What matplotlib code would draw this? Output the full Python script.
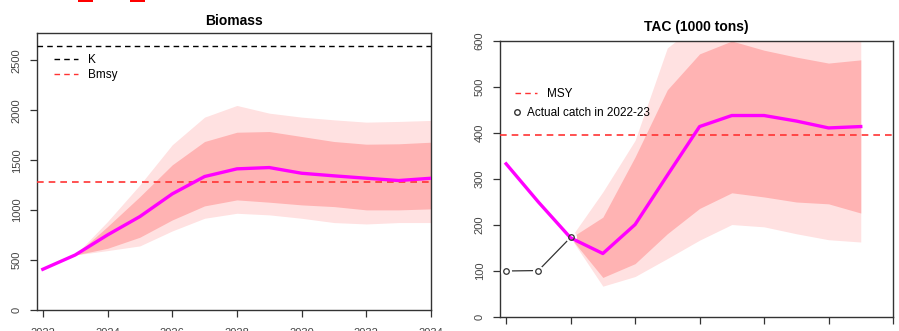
import matplotlib
matplotlib.use("Agg")
import matplotlib.pyplot as plt
from matplotlib.patches import Rectangle
from matplotlib.lines import Line2D
import numpy as np

plt.rcParams['font.family'] = ['Liberation Sans', 'DejaVu Sans']

# ---- data ----
years_b = list(range(2022, 2035))
biomass = [408, 551, 752, 936, 1163, 1337, 1414, 1427, 1370, 1344, 1320, 1297, 1320]
band_years_b = list(range(2023, 2035))
b_in_lo = [551, 618, 729, 902, 1043, 1103, 1080, 1053, 1036, 1003, 1003, 1013]
b_in_hi = [551, 836, 1136, 1454, 1688, 1781, 1788, 1738, 1688, 1661, 1665, 1681]
b_out_lo = [551, 595, 642, 792, 919, 969, 953, 919, 876, 862, 876, 876]
b_out_hi = [551, 886, 1253, 1655, 1932, 2049, 1972, 1932, 1905, 1882, 1889, 1899]
K = 2640
Bmsy = 1280

years_t = list(range(2022, 2034))
tac = [333, 250, 172, 138, 201, 308, 414, 438, 438, 426, 411, 414]
band_years_t = list(range(2024, 2034))
t_in_lo = [172, 86, 116, 181, 236, 270, 261, 250, 246, 226]
t_in_hi = [172, 217, 348, 494, 572, 600, 580, 565, 552, 559]
t_out_lo = [172, 67, 88, 127, 167, 201, 196, 181, 168, 163]
t_out_hi = [172, 272, 384, 585, 640, 680, 670, 660, 650, 655]
MSY = 396
catch_years = [2022, 2023, 2024]
catch = [100, 101, 173]

xticks = [2022, 2024, 2026, 2028, 2030, 2032, 2034]

light = '#FFE1E1'
dark = '#FFB3B3'
mag = '#FF00FF'

W, H = 899, 331
fig = plt.figure(figsize=(W / 100, H / 100), dpi=100)

def box(l, r, t, b):
    return [l / W, 1 - b / H, (r - l) / W, (b - t) / H]

def style(ax, yticks):
    for s in ax.spines.values():
        s.set_color('#333333')
        s.set_linewidth(1.0)
    ax.set_xticks(xticks)
    ax.set_yticks(yticks)
    ax.tick_params(axis='both', direction='out', length=5, width=0.9,
                   color='#333333', labelsize=8, labelcolor='#444444')
    ax.tick_params(axis='x', pad=8)
    ax.tick_params(axis='y', pad=6)
    for lab in ax.get_yticklabels():
        lab.set_rotation(90)
        lab.set_va('center')

dash = (0, (4, 3))

# ---- Biomass ----
ax1 = fig.add_axes(box(37, 431, 33, 310))
ax1.fill_between(band_years_b, b_out_lo, b_out_hi, color=light, lw=0, zorder=1)
ax1.fill_between(band_years_b, b_in_lo, b_in_hi, color=dark, lw=0, zorder=2)
ax1.axhline(K, color='black', ls=dash, lw=1.0, zorder=3)
ax1.axhline(Bmsy, color='#FF3333', ls=dash, lw=1.2, zorder=3)
ax1.plot(years_b, biomass, color=mag, lw=2.4, zorder=4)
ax1.set_xlim(2021.82, 2034)
ax1.set_ylim(0, 2775)
style(ax1, [0, 500, 1000, 1500, 2000, 2500])
ax1.set_title('Biomass', fontsize=10, fontweight='bold', pad=6)
h1 = [Line2D([], [], color='black', ls=dash, lw=1.0),
      Line2D([], [], color='#FF3333', ls=dash, lw=1.0)]
ax1.legend(h1, ['K', 'Bmsy'], loc='center left', bbox_to_anchor=(0.043, 0.874),
           frameon=False, fontsize=8.5, handlelength=2.0, handletextpad=0.85,
           labelspacing=0.25, borderaxespad=0, borderpad=0)

# ---- TAC ----
ax2 = fig.add_axes(box(500, 893, 41, 317))
ax2.fill_between(band_years_t, t_out_lo, t_out_hi, color=light, lw=0, zorder=1)
ax2.fill_between(band_years_t, t_in_lo, t_in_hi, color=dark, lw=0, zorder=2)
ax2.axhline(MSY, color='#FF3333', ls=dash, lw=1.2, zorder=3)
ax2.plot(catch_years, catch, color='#333333', lw=0.9, zorder=3)
ax2.plot(catch_years, catch, ls='none', marker='o', ms=7, mfc='white',
         mec='white', zorder=3.5)
ax2.plot(years_t, tac, color=mag, lw=2.4, zorder=4)
ax2.plot(catch_years, catch, ls='none', marker='o', ms=4, mfc='none',
         mec='#333333', mew=0.9, zorder=5)
ax2.set_xlim(2021.81, 2034)
ax2.set_ylim(0, 600)
style(ax2, [0, 100, 200, 300, 400, 500, 600])
ax2.set_title('TAC (1000 tons)', fontsize=10, fontweight='bold', pad=7)
leg_a = ax2.legend([Line2D([], [], color='#FF3333', ls=dash, lw=1.0)], ['MSY'],
                   loc='center left', bbox_to_anchor=(0.038, 0.808), frameon=False,
                   fontsize=8.5, handlelength=1.9, handletextpad=0.85,
                   borderaxespad=0, borderpad=0)
ax2.add_artist(leg_a)
ax2.legend([Line2D([], [], ls='none', marker='o', ms=4, mfc='none', mec='#333333')],
           ['Actual catch in 2022-23'], loc='center left', bbox_to_anchor=(0.031, 0.739),
           frameon=False, fontsize=8.5, handlelength=0.8, handletextpad=0.45,
           borderaxespad=0, borderpad=0)

# red fragments at the very top edge
for x0 in (78, 130):
    fig.add_artist(Rectangle((x0 / W, 1 - 2.0 / H), 15 / W, 2.0 / H,
                             transform=fig.transFigure, color='#FF0000', lw=0))

fig.savefig('out.png', dpi=100)
